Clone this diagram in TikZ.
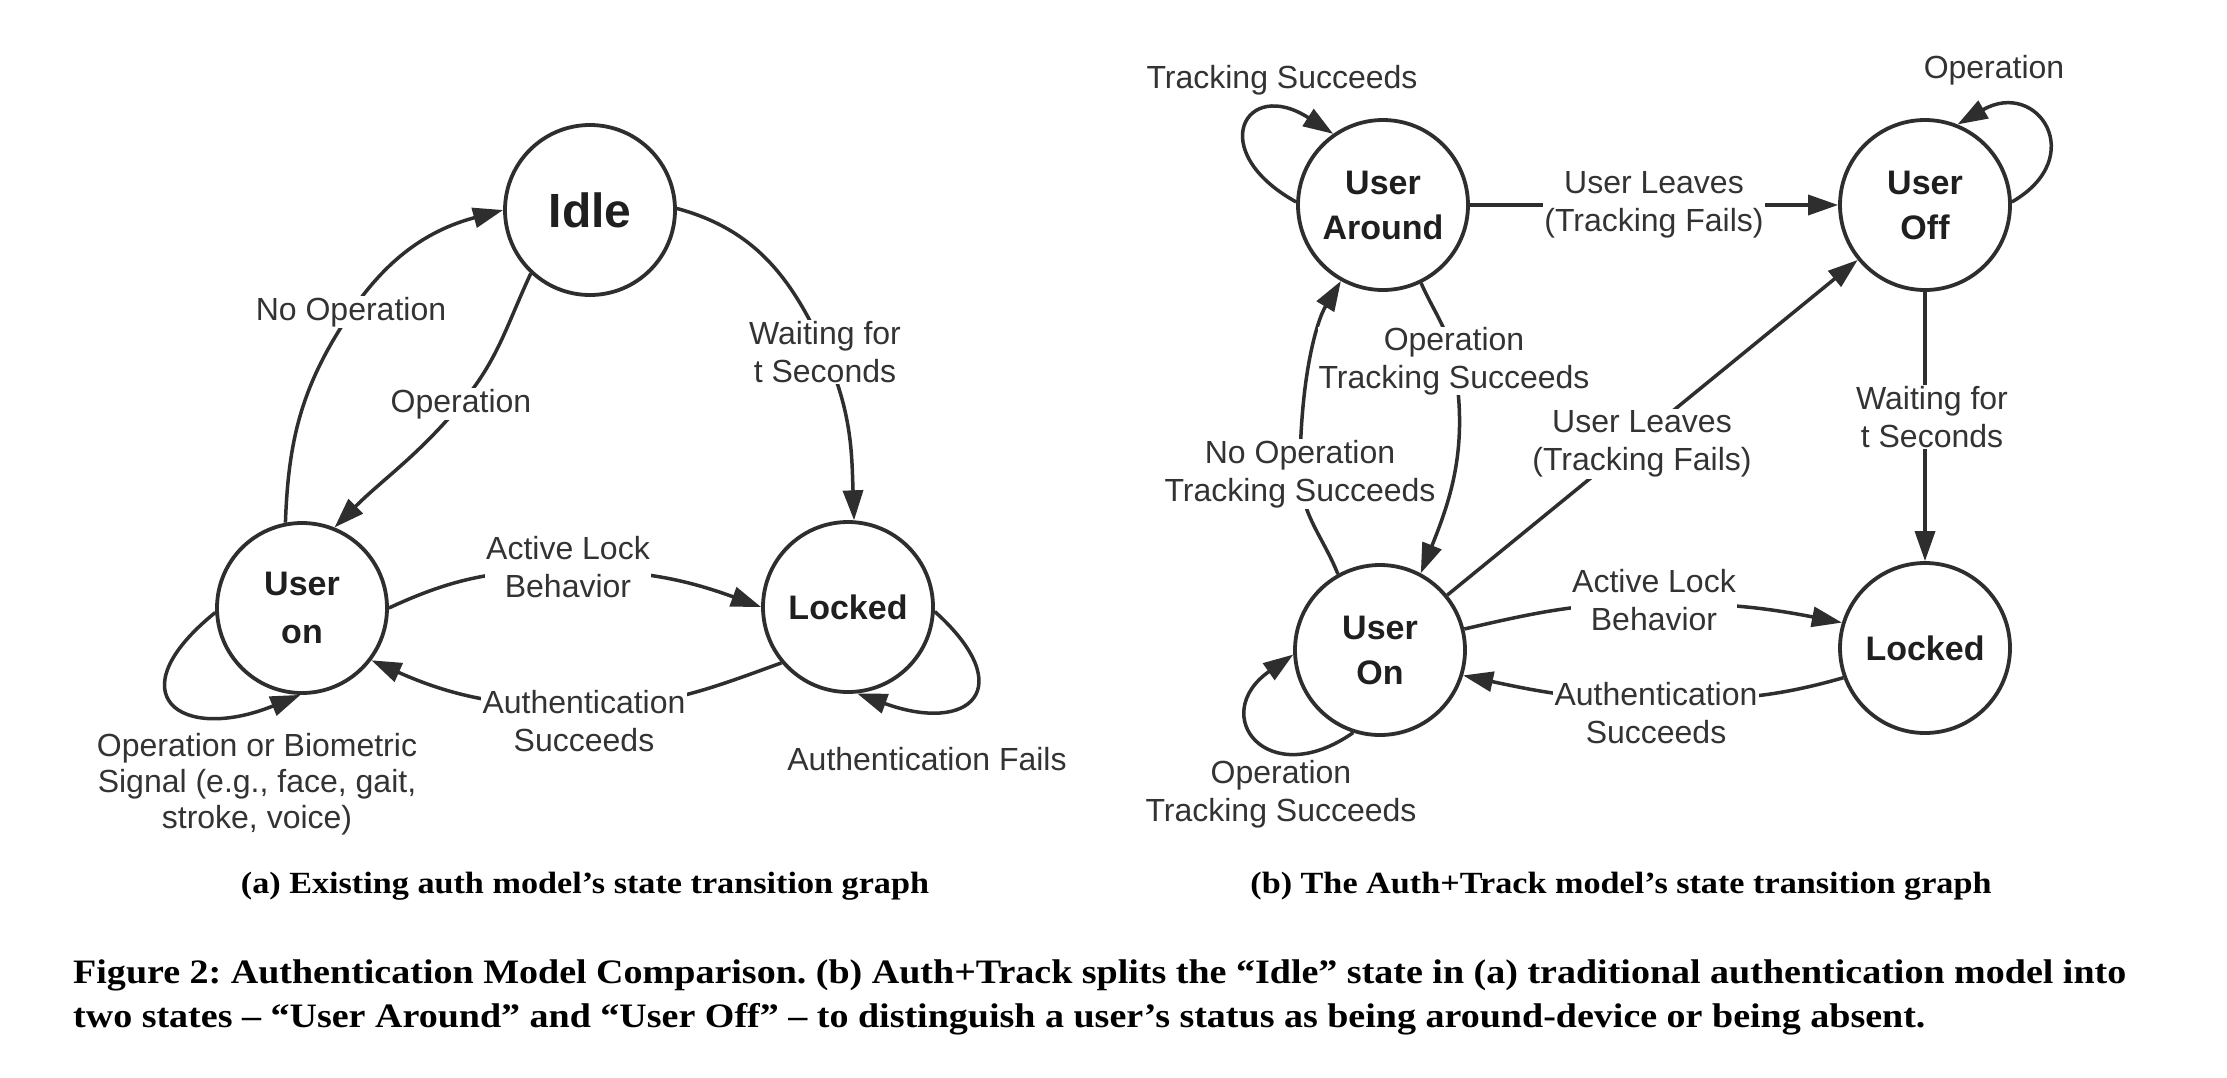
\documentclass[tikz,border=0pt]{standalone}
\usepackage{fontspec}
\setmainfont{Liberation Sans}
\newfontfamily\capfont{Liberation Serif}[FakeStretch=1.11]
\usetikzlibrary{arrows.meta}
\definecolor{ink}{HTML}{2E2E2E}
\definecolor{txt}{HTML}{333333}
\frenchspacing
\begin{document}
\begin{tikzpicture}[x=1pt,y=1pt,
  state/.style={circle, draw=ink, line width=3.8pt, minimum size=170pt, inner sep=0pt, align=center,
    font=\fontsize{34}{45}\selectfont\bfseries, text=black!88},
  lbl/.style={fill=white, inner sep=1.5pt, align=center, font=\fontsize{32}{38}\selectfont, text=txt},
  edge/.style={draw=ink, line width=3.5pt, -{Triangle[length=30pt,width=20pt]}},
  subcap/.style={anchor=base, inner sep=0pt, font=\capfont\bfseries\fontsize{30.8}{36}\selectfont},
  capline/.style={anchor=base west, inner sep=0pt, font=\capfont\bfseries\fontsize{34.25}{40}\selectfont}]
\fill[white] (0,0) rectangle (2227,-1077);
\useasboundingbox (0,0) rectangle (2227,-1077);

% ---------- (a) ----------
\node[state, font=\fontsize{48}{56}\selectfont\bfseries] (idle) at (590,-210) {Idle};
\node[state, font=\fontsize{34}{48}\selectfont\bfseries] (uonA) at (302,-608) {User\\on};
\node[state] (lockA) at (848,-607) {Locked};

\coordinate (pNoOp) at (351,-312);
\coordinate (pOp) at (461,-404);
\coordinate (pWait) at (825,-352);
\coordinate (pAL) at (568,-570);
\coordinate (pAS) at (584,-707);

\draw[edge] (uonA.101) to[out=88,in=-124] (pNoOp) to[out=56,in=195] (idle.180);
\draw[edge] (idle.-133) to[out=-115,in=50] (pOp) to[out=-130,in=45] (uonA.68);
\draw[edge] (idle.1) to[out=-15,in=114] (pWait) to[out=-66,in=92] (lockA.86);
\draw[edge] (uonA.0) to[out=25,in=180] (pAL) to[out=0,in=160] (lockA.180);
\draw[edge] (lockA.-140) to[out=200,in=0] (pAS) to[out=180,in=-24] (uonA.-37);
\draw[edge] (uonA.183) .. controls +(219:130) and +(202:130) .. (uonA.-91);
\draw[edge] (lockA.-3) .. controls +(-42:115) and +(-20:120) .. (lockA.-84);

\node[lbl] (lNoOp) at (pNoOp) {No Operation};
\node[lbl] (lOp) at (pOp) {Operation};
\node[lbl] (lWait) at (pWait) {Waiting for\\t Seconds};
\node[lbl] (lAL) at (568,-567) {Active Lock\\Behavior};
\node[lbl] (lAS) at (584,-721) {Authentication\\Succeeds};
\node[lbl, font=\fontsize{32}{36}\selectfont] (lLoopA) at (257,-784) {Operation or Biometric\\Signal (e.g., face, gait,\\stroke, voice)};
\node[lbl] (lFail) at (927,-759) {Authentication Fails};

% ---------- (b) ----------
\node[state] (uar) at (1383,-205) {User\\Around};
\node[state] (uoff) at (1925,-205) {User\\Off};
\node[state] (uonB) at (1380,-650) {User\\On};
\node[state] (lockB) at (1925,-648) {Locked};

\coordinate (pOTS) at (1454,-362);
\coordinate (pNTS) at (1300,-474);
\coordinate (pALB) at (1654,-603);
\coordinate (pASB) at (1656,-700);

\draw[edge] (uar.178) .. controls +(151:105) and +(147:105) .. (uar.125);
\draw[edge] (uar.east) -- (uoff.west);
\draw[edge] (uoff.2) .. controls +(30:90) and +(30:92) .. (uoff.68);
\draw[edge] (uoff.south) -- (lockB.north);
\draw[edge] (uar.-64) to[out=-66,in=100] (pOTS) to[out=-80,in=68] (uonB.62);
\draw[edge] (uonB.119) to[out=112,in=-88] (pNTS) .. controls (1300,-380) and (1316,-322) .. (uar.-119);
\draw[edge] (uonB) -- (uoff);
\draw[edge] (uonB.14) to[out=13,in=180] (pALB) to[out=0,in=169] (lockB.163);
\draw[edge] (lockB.-160) to[out=196,in=0] (pASB) to[out=180,in=-12] (uonB.-17);
\draw[edge] (uonB.-108) .. controls +(215:105) and +(215:105) .. (uonB.183);

\node[lbl] (lTS) at (1282,-80) {Tracking Succeeds};
\node[lbl] (lUL1) at (1654,-205) {User Leaves\\(Tracking Fails)};
\node[lbl] (lOpOff) at (1994,-70) {Operation};
\node[lbl] (lWaitB) at (1932,-417) {Waiting for\\t Seconds};
\node[lbl, inner sep=0.5pt] (lOTS) at (1454,-361) {Operation\\Tracking Succeeds};
\node[lbl] (lNTS) at (1300,-474) {No Operation\\Tracking Succeeds};
\node[lbl] (lUL2) at (1642,-444) {User Leaves\\(Tracking Fails)};
\node[lbl] (lALB) at (1654,-600) {Active Lock\\Behavior};
\node[lbl] (lASB) at (1656,-713) {Authentication\\Succeeds};
\node[lbl] (lLoopB) at (1281,-794) {Operation\\Tracking Succeeds};

% ---------- captions ----------
\node[subcap] (capA) at (585,-893) {(a) Existing auth model’s state transition graph};
\node[subcap] (capB) at (1621,-893) {(b) The Auth+Track model’s state transition graph};
\node[capline] (cap1) at (73,-983) {Figure 2: Authentication Model Comparison. (b) Auth+Track splits the “Idle” state in (a) traditional authentication model into};
\node[capline] (cap2) at (73,-1027) {two states – “User Around” and “User Off” – to distinguish a user’s status as being around-device or being absent.};
\end{tikzpicture}
\end{document}
